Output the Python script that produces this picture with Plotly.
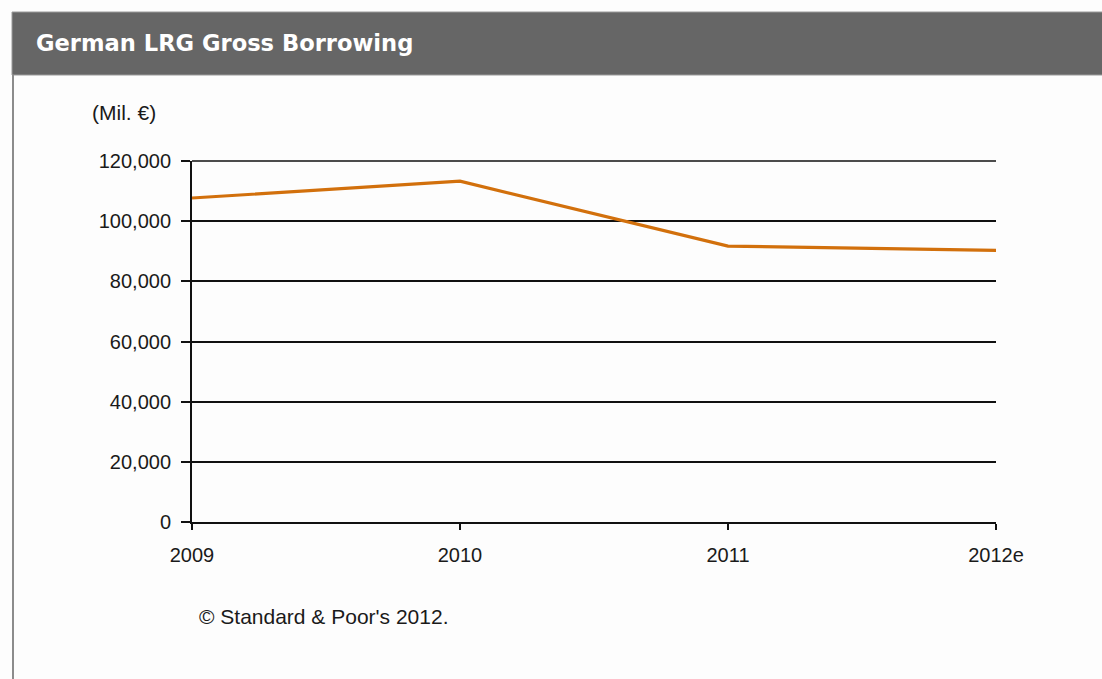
import plotly.graph_objects as go

# Gross borrowing of German local and regional governments (million euros)
years = ["2009", "2010", "2011", "2012e"]
borrowing = [107700, 113300, 91700, 90300]
y_ticks = [0, 20000, 40000, 60000, 80000, 100000, 120000]

W, H = 1102, 679
PL, PR, PT, PB = 192, 996, 161, 522  # plot area in pixels


def px_x(p):
    return (p - PL) / (PR - PL)


def px_y(p):
    return (PB - p) / (PB - PT)


fig = go.Figure()
fig.add_trace(go.Scatter(
    x=years, y=borrowing, mode="lines",
    line=dict(color="#D2700C", width=3.2),
    hoverinfo="x+y", showlegend=False,
))

font = dict(family="Liberation Sans, Arial, sans-serif", size=20, color="#1a1a1a")
note_font = dict(family="Liberation Sans, Arial, sans-serif", size=21, color="#1a1a1a")

fig.update_layout(
    width=W, height=H,
    margin=dict(l=PL, r=W - PR, t=PT, b=H - PB),
    paper_bgcolor="#fdfdfd", plot_bgcolor="#fdfdfd",
    font=font,
    xaxis=dict(
        type="category", range=[0, 3], showgrid=False, zeroline=False,
        showline=True, linecolor="#111", linewidth=2,
        ticks="outside", ticklen=6, tickcolor="#111", tickwidth=1.5,
        tickfont=font, ticklabelstandoff=8, fixedrange=True,
    ),
    yaxis=dict(
        range=[0, 120000], tickvals=y_ticks, tickformat=",",
        showgrid=True, gridcolor="#111", gridwidth=1.7, zeroline=False,
        showline=True, linecolor="#111", linewidth=2,
        ticks="outside", ticklen=9, tickcolor="#111", tickwidth=1.5,
        tickfont=font, ticklabelstandoff=6, fixedrange=True,
    ),
    shapes=[
        # top gridline along the upper plot edge (paper-referenced so it is not clipped)
        dict(type="line", xref="paper", yref="paper",
             x0=0, x1=1, y0=1, y1=1,
             line=dict(color="#111", width=1.7), layer="below"),
        # header bar
        dict(type="rect", xref="paper", yref="paper",
             x0=px_x(12), x1=px_x(W + 5), y0=px_y(75), y1=px_y(12),
             fillcolor="#666666", line=dict(color="#9a9a9a", width=1), layer="above"),
        # left frame edge
        dict(type="line", xref="paper", yref="paper",
             x0=px_x(13), x1=px_x(13), y0=px_y(75), y1=px_y(H + 5),
             line=dict(color="#8c8c8c", width=2)),
    ],
    annotations=[
        dict(text="<b>German LRG Gross Borrowing</b>", xref="paper", yref="paper",
             x=px_x(34), y=px_y(43), xanchor="left", yanchor="middle", showarrow=False,
             font=dict(family="DejaVu Sans, Verdana, sans-serif", size=22.6, color="#ffffff")),
        dict(text="(Mil. €)", xref="paper", yref="paper",
             x=px_x(90), y=px_y(113), xanchor="left", yanchor="middle", showarrow=False,
             font=note_font),
        dict(text="© Standard &amp; Poor's 2012.", xref="paper", yref="paper",
             x=px_x(197), y=px_y(616), xanchor="left", yanchor="middle", showarrow=False,
             font=note_font),
    ],
)

fig.write_html("out.html")
